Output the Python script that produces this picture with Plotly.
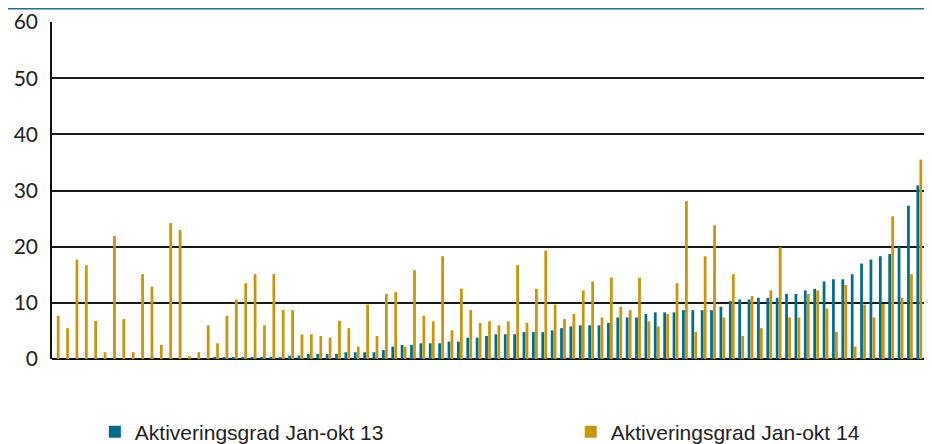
import plotly.graph_objects as go

# kommuner sorted by activation rate 2013 (93 units)
units = [str(i) for i in range(1, 94)]

aktiv_13 = [0, 0, 0, 0, 0, 0, 0, 0, 0, 0,
            0, 0, 0, 0, 0, 0, 0, 0.3, 0.3, 0.3,
            0.3, 0.3, 0.3, 0.3, 0.3, 0.6, 0.6, 0.9, 0.9, 0.9,
            0.9, 1.2, 1.2, 1.2, 1.2, 1.6, 2.2, 2.5, 2.5, 2.8,
            2.8, 2.8, 3.1, 3.1, 3.8, 3.8, 4.1, 4.4, 4.4, 4.4,
            4.8, 4.8, 4.8, 5.1, 5.5, 5.8, 6.0, 6.0, 6.0, 6.4,
            7.4, 7.4, 7.4, 8.0, 8.3, 8.3, 8.3, 8.7, 8.7, 8.7,
            8.7, 9.3, 10.3, 10.6, 10.6, 10.9, 10.9, 10.9, 11.6, 11.6,
            12.2, 12.5, 13.8, 14.2, 14.2, 15.1, 17.0, 17.7, 18.3, 18.7,
            20.0, 27.3, 30.9]

aktiv_14 = [7.7, 5.5, 17.7, 16.7, 6.8, 1.2, 21.9, 7.1, 1.2, 15.1,
            12.9, 2.5, 24.2, 23.0, 0.5, 1.2, 6.0, 2.8, 7.7, 10.6,
            13.5, 15.1, 6.0, 15.1, 8.7, 8.7, 4.4, 4.4, 4.1, 3.8,
            6.8, 5.5, 2.2, 9.7, 4.1, 11.6, 11.9, 2.2, 15.8, 7.7,
            6.7, 18.3, 5.1, 12.5, 8.7, 6.4, 6.7, 6.0, 6.7, 16.7,
            6.4, 12.5, 19.3, 9.7, 7.1, 8.0, 12.2, 13.8, 7.4, 14.5,
            9.3, 8.7, 14.5, 6.7, 5.8, 8.0, 13.5, 28.1, 4.8, 18.3,
            23.8, 7.4, 15.1, 4.1, 11.2, 5.5, 12.2, 19.9, 7.4, 7.4,
            11.6, 12.2, 9.0, 4.8, 13.2, 2.2, 9.7, 7.4, 9.8, 25.4,
            10.9, 15.1, 35.5]

y_ticks = [0, 10, 20, 30, 40, 50, 60]

teal = "#006d8c"
gold = "#c8960a"

legend_font = dict(family="Liberation Sans, Arial, sans-serif", size=21, color="#222")

fig = go.Figure()
fig.add_trace(go.Bar(x=units, y=aktiv_13, name="Aktiveringsgrad Jan-okt 13",
                     marker=dict(color=teal, line=dict(width=0)), legend="legend"))
fig.add_trace(go.Bar(x=units, y=aktiv_14, name="Aktiveringsgrad Jan-okt 14",
                     marker=dict(color=gold, line=dict(width=0)), legend="legend2"))

# page body has an 8px margin, so the figure is drawn 8px smaller
fig.update_layout(
    width=924, height=436,
    margin=dict(l=44, r=8, t=14, b=85, autoexpand=False),
    paper_bgcolor="white", plot_bgcolor="white",
    barmode="group", bargap=0.36, bargroupgap=0.08,
    font=dict(family="Lato, Open Sans, sans-serif", color="#222"),
    showlegend=True,
    legend=dict(orientation="h", xref="container", yref="container",
                x=0.094, y=0.0275, xanchor="left", yanchor="middle",
                font=legend_font, itemwidth=30, borderwidth=0),
    legend2=dict(orientation="h", xref="container", yref="container",
                 x=0.609, y=0.0275, xanchor="left", yanchor="middle",
                 font=legend_font, itemwidth=30, borderwidth=0),
    xaxis=dict(showticklabels=False, ticks="", showgrid=False, automargin=False,
               range=[-0.5, len(units) - 0.5], showline=False, zeroline=False),
    yaxis=dict(range=[0, 60], tickvals=y_ticks, ticktext=[str(v) for v in y_ticks],
               automargin=False,
               showgrid=True, gridcolor="#1a1a1a", gridwidth=1.5,
               zeroline=True, zerolinecolor="#111", zerolinewidth=1.5,
               showline=True, linecolor="#111", linewidth=1.5,
               ticks="", ticklabelstandoff=8,
               tickfont=dict(family="Lato, sans-serif", size=21, color="#222")),
)

# rule under the (cropped) heading; gridlines run on to the right edge
fig.add_shape(type="line", xref="paper", yref="paper",
              x0=-0.06, x1=1.02, y0=1.039, y1=1.039,
              line=dict(color="#1f6f8e", width=1.5))
for v in y_ticks[1:]:
    fig.add_shape(type="line", xref="paper", yref="y", x0=1, x1=1.02, y0=v, y1=v,
                  line=dict(color="#1a1a1a", width=1.5))

fig.write_html("out.html")
